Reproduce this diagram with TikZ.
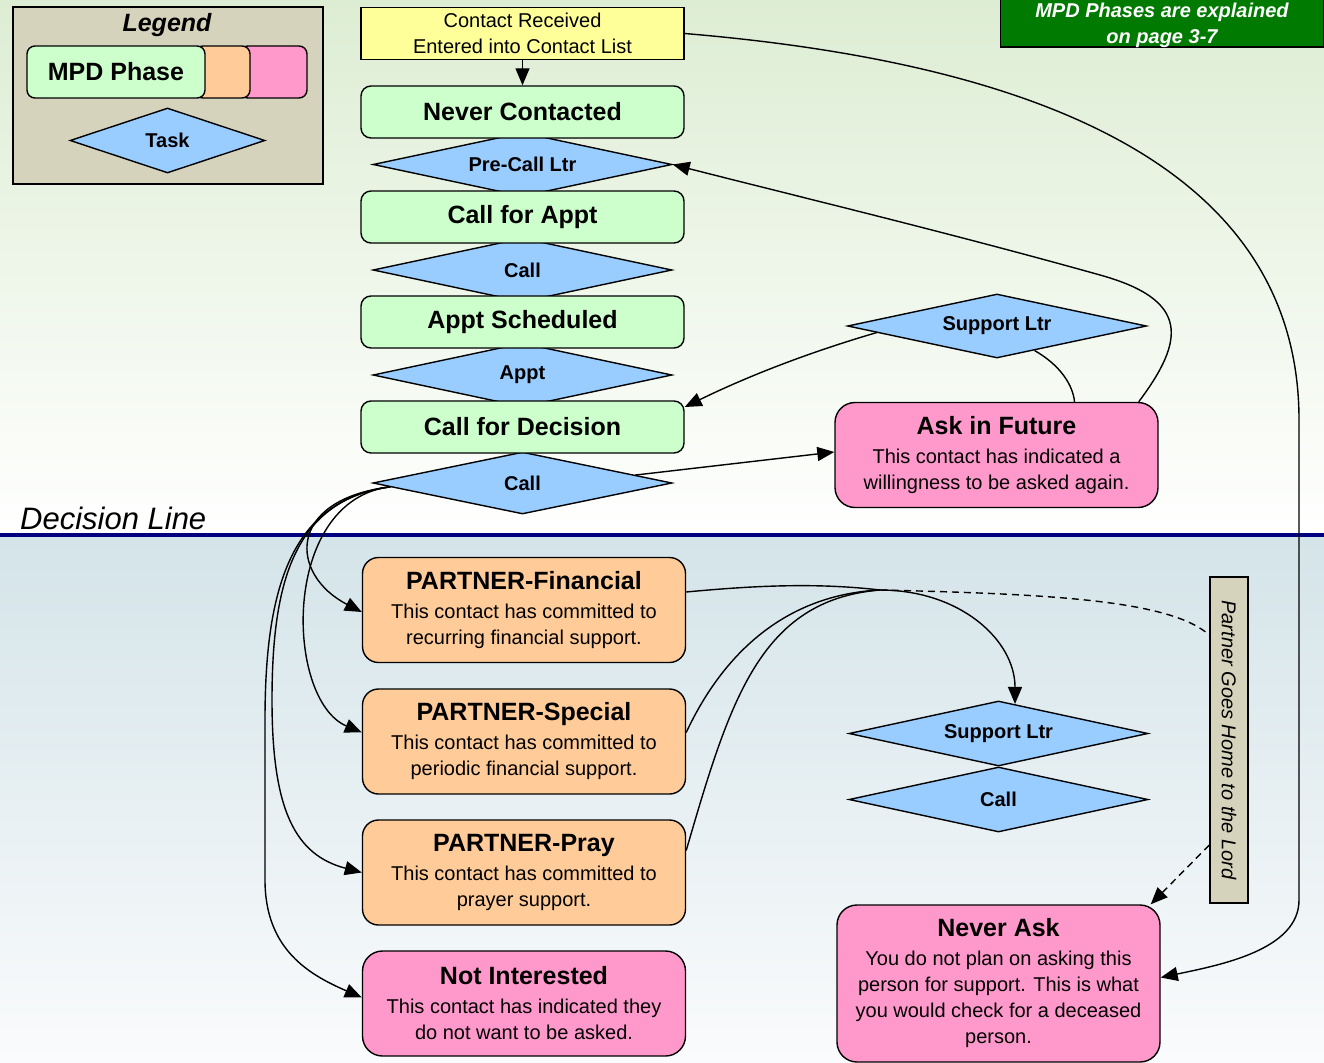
\documentclass[tikz,border=0pt]{standalone}
\usepackage{fontspec}
\setmainfont{Liberation Sans}
\usetikzlibrary{shapes.geometric,arrows.meta,calc}
\definecolor{phasegreen}{HTML}{CCFFCC}
\definecolor{yellowbox}{HTML}{FFFF99}
\definecolor{taskblue}{HTML}{99CCFF}
\definecolor{partnerorange}{HTML}{FFCC99}
\definecolor{askpink}{HTML}{FF99CC}
\definecolor{legendtan}{HTML}{D6D3BD}
\definecolor{notegreen}{HTML}{007A00}
\definecolor{decisionnavy}{HTML}{000080}
\definecolor{bgtopgreen}{HTML}{DDEDD3}
\definecolor{bglowblue}{HTML}{D4E4E9}
\definecolor{bglowwhite}{HTML}{FAFBFC}
\newcommand{\ttlfont}{\fontsize{25}{29}\selectfont\bfseries}
\begin{document}
\begin{tikzpicture}[x=1pt,y=-1pt,
  phase/.style={draw, line width=1.4pt, rounded corners=10pt, fill=phasegreen,
    minimum width=323pt, minimum height=52pt, inner sep=0pt,
    font=\fontsize{25}{29}\selectfont\bfseries},
  task/.style={diamond, draw, line width=1.4pt, fill=taskblue, shape aspect=5,
    minimum width=299pt, minimum height=64pt, inner sep=0pt,
    font=\fontsize{20}{24}\selectfont\bfseries},
  info/.style={draw, line width=1.4pt, rounded corners=16pt, minimum width=323pt,
    minimum height=105pt, align=center, inner sep=0pt,
    font=\fontsize{20}{26}\selectfont},
  partner/.style={info, fill=partnerorange},
  ask/.style={info, fill=askpink, rounded corners=20pt},
  conn/.style={line width=1.4pt, -{Triangle[length=17pt,width=14pt]}},
  plain/.style={line width=1.4pt},
  dashline/.style={dash pattern=on 7pt off 5pt}
]
\useasboundingbox (0,0) rectangle (1324,1062);
% backgrounds
\shade[top color=bgtopgreen, bottom color=white] (0,0) rectangle (1324,535);
\shade[top color=bglowblue, bottom color=bglowwhite] (0,535) rectangle (1324,1062);
\coordinate (dl0) at (0,535);
\coordinate (dl1) at (1324,535);
\draw[line width=4pt, decisionnavy] (dl0) -- (dl1);
\node[anchor=base west, inner sep=0pt, font=\fontsize{31}{36}\selectfont\itshape] (dltext) at (20,529) {Decision Line};

% legend
\node[draw, line width=1.5pt, fill=legendtan, minimum width=310pt, minimum height=177pt, inner sep=0pt] (legend) at (168,95.5) {};
\node[font=\fontsize{25}{30}\selectfont\bfseries\itshape, inner sep=0pt] (legtitle) at (167,25) {Legend};
\node[draw, line width=1.4pt, rounded corners=8pt, fill=askpink, minimum width=67pt, minimum height=52pt, inner sep=0pt] (legpink) at (273.5,72) {};
\node[draw, line width=1.4pt, rounded corners=8pt, fill=partnerorange, minimum width=55pt, minimum height=52pt, inner sep=0pt] (legorange) at (222.5,72) {};
\node[phase, minimum width=178pt, rounded corners=8pt] (leggreen) at (116,72) {MPD Phase};
\node[task, shape aspect=3, minimum width=195pt, minimum height=65pt] (legtask) at (167.5,140.5) {Task};

% note
\node[draw, line width=1.5pt, fill=notegreen, minimum width=323pt, minimum height=58pt, inner sep=0pt] (note) at (1162,18) {};
\node[inner sep=0pt, text=white, align=center, font=\fontsize{20}{26}\selectfont\bfseries\itshape] (notetext) at (1162,25) {MPD Phases are explained\\on page 3-7};

% main column diamonds (behind boxes)
\node[task] (pcl) at (522.5,164.5) {Pre-Call Ltr};
\node[task] (call1) at (522.5,270) {Call};
\node[task] (appt) at (522.5,375) {Appt};
\node[task, minimum height=62pt] (call2) at (522.5,483) {Call};

% main column boxes
\node[phase, fill=yellowbox, rounded corners=0pt, align=center, font=\fontsize{20}{26}\selectfont] (cr) at (522.5,33.5) {Contact Received\\Entered into Contact List};
\node[phase] (nc) at (522.5,112) {Never Contacted};
\node[phase] (cfa) at (522.5,217) {Call for Appt};
\node[phase] (as) at (522.5,322) {Appt Scheduled};
\node[phase] (cfd) at (522.5,427) {Call for Decision};

% right upper
\node[task] (sl1) at (997,326) {Support Ltr};
\node[ask] (aif) at (996.5,455) {{\ttlfont Ask in Future}\\[3pt]This contact has indicated a\\willingness to be asked again.};

% partner boxes
\node[partner] (pf) at (524,610) {{\ttlfont PARTNER-Financial}\\[3pt]This contact has committed to\\recurring financial support.};
\node[partner] (ps) at (524,741.5) {{\ttlfont PARTNER-Special}\\[3pt]This contact has committed to\\periodic financial support.};
\node[partner] (pp) at (524,872.5) {{\ttlfont PARTNER-Pray}\\[3pt]This contact has committed to\\prayer support.};
\node[ask] (ni) at (524,1003.5) {{\ttlfont Not Interested}\\[3pt]This contact has indicated they\\do not want to be asked.};

% right lower
\node[task, minimum height=65pt] (sl2) at (998.5,733.5) {Support Ltr};
\node[task, minimum height=65pt] (call3) at (998.5,799.5) {Call};
\node[ask, minimum height=157pt] (na) at (998.5,983.5) {{\ttlfont Never Ask}\\[3pt]You do not plan on asking this\\person for support. This is what\\you would check for a deceased\\person.};

\node[draw, line width=1.4pt, fill=legendtan, minimum width=38pt, minimum height=326pt, inner sep=0pt] (pgh) at (1229,740) {};
\node[rotate=-90, inner sep=0pt, font=\fontsize{20}{24}\selectfont\itshape] (pghtext) at (pgh.center) {Partner Goes Home to the Lord};

% connectors
\draw[conn] (cr.south) -- (nc.north);
\draw[conn] (cr.east) .. controls (1000,60) and (1299,150) .. (1299,420) -- (1299,900) .. controls (1299,950) and (1220,965) .. ([yshift=6pt]na.east);
\draw[conn] ([xshift=-20pt]aif.north east) .. controls (1185,340) and (1190,300) .. (1100,275) .. controls (950,233) and (800,197) .. (pcl.east);
\draw[conn] ($(sl1.west)!0.2!(sl1.south)$) .. controls (800,355) and (740,380) .. ([yshift=20pt]cfd.east);
\draw[plain] ($(sl1.east)!0.75!(sl1.south)$) .. controls (1060,365) and (1073,385) .. ([xshift=78pt]aif.north);
\draw[conn] ($(call2.north)!0.75!(call2.east)$) -- ([yshift=3pt]aif.west);

\coordinate (S) at ($(call2.west)!0.12!(call2.south)$);
\draw[conn] (S) .. controls (285,500) and (290,575) .. ([yshift=-2pt]pf.west);
\draw[conn] (S) .. controls (280,500) and (285,700) .. ([yshift=9pt]ps.west);
\draw[conn] (S) .. controls (295,500) and (272,580) .. (272,700) .. controls (272,810) and (295,855) .. (pp.west);
\draw[conn] (S) .. controls (290,500) and (265,590) .. (265,720) -- (265,880) .. controls (265,950) and (310,975) .. ([yshift=6pt]ni.west);

\coordinate (J) at (880,590);
\draw[plain] ([yshift=18pt]pf.east) .. controls (760,585) and (820,583) .. (J);
\draw[plain] ([yshift=9pt]ps.east) .. controls (720,660) and (780,595) .. (J);
\draw[plain] ([yshift=22pt]pp.east) .. controls (730,700) and (760,600) .. (J);
\draw[conn] (J) .. controls (960,590) and (1015,640) .. ($(sl2.north)!0.11!(sl2.east)$);
\draw[plain, dashline] (J) .. controls (1050,594) and (1170,600) .. ([yshift=105pt]pgh.west);
\draw[conn, dashline] ([yshift=-105pt]pgh.west) -- ([xshift=-10pt]na.north east);
\end{tikzpicture}
\end{document}
